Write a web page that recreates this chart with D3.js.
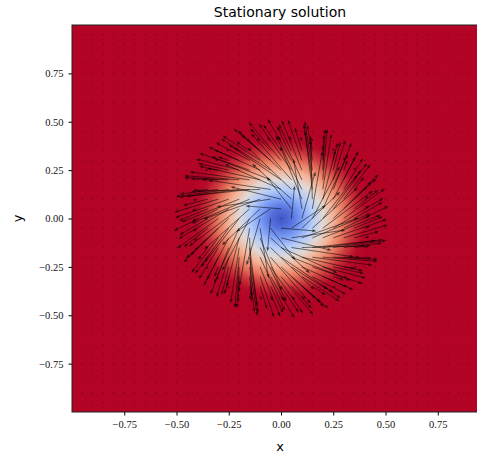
<!DOCTYPE html>
<html>
<head>
<meta charset="utf-8">
<script src="https://cdn.jsdelivr.net/npm/d3@7"></script>
<style>
  body { margin: 0; background: #fff; }
  .tick text { font-family: "Liberation Serif", "DejaVu Serif", serif; font-size: 10.5px; fill: #111; }
</style>
</head>
<body>
<svg id="chart" width="477" height="457"></svg>
<script>
// radial profile (r in plot units)
const profileR = [0, 0.05, 0.10, 0.15, 0.20, 0.25, 0.30, 0.35, 0.40, 0.45, 0.50]
// normalised colour value (0 = coolwarm blue, 1 = coolwarm red)
const fieldValue = [0.02, 0.08, 0.20, 0.36, 0.52, 0.68, 0.82, 0.93, 0.99, 1.0, 1.0]
// arrow length in plot units
const arrowLength = [0, 0.17, 0.25, 0.30, 0.31, 0.29, 0.25, 0.16, 0.03, 0.0, 0.0]
// arrow turn from the radial direction, degrees counter-clockwise
const arrowTurn = [88, 85, 75, 64, 54, 45, 38, 32, 30, 30, 30]

const xTicks = [-0.75, -0.5, -0.25, 0, 0.25, 0.5, 0.75]
const yTicks = [-0.75, -0.5, -0.25, 0, 0.25, 0.5, 0.75]
const gridStep = 0.05
const coolwarm = ['#3b4cc0', '#6282ea', '#8db0fe', '#b9d0f9', '#dddddd', '#f5c4ac', '#f49a7b', '#de604d', '#b40426']

let svg = d3.select('#chart')
let pLeft = 72, pTop = 25, pRight = 490, pBottom = 412
let x = d3.scaleLinear().domain([-1, 1]).range([pLeft, pRight])
let y = d3.scaleLinear().domain([-1, 1]).range([pBottom, pTop])
let colour = d3.piecewise(d3.interpolateRgb, coolwarm)

let valueAt = d3.scaleLinear().domain(profileR).range(fieldValue).clamp(true)
let lengthAt = d3.scaleLinear().domain(profileR).range(arrowLength).clamp(true)
let turnAt = d3.scaleLinear().domain(profileR).range(arrowTurn).clamp(true)

let defs = svg.append('defs')
// clip
defs.append('clipPath').attr('id', 'plot-clip')
    .append('rect').attr('x', pLeft).attr('y', pTop).attr('width', pRight - pLeft).attr('height', pBottom - pTop)

let plot = svg.append('g').attr('clip-path', 'url(#plot-clip)')

// heat map: flat red background + radial gradient disc
plot.append('rect').attr('x', pLeft).attr('y', pTop).attr('width', pRight - pLeft).attr('height', pBottom - pTop)
    .attr('fill', colour(1))
let grad = defs.append('radialGradient').attr('id', 'vortex')
profileR.forEach((r, i) => {
    grad.append('stop').attr('offset', r / 0.5).attr('stop-color', colour(valueAt(r)))
})
plot.append('ellipse')
    .attr('cx', x(0)).attr('cy', y(0))
    .attr('rx', x(0.5) - x(0)).attr('ry', y(0) - y(0.5))
    .attr('fill', 'url(#vortex)')

// quiver
let grid = []
let n = Math.round(2 / gridStep)
for (let i = 0; i <= n; i++) {
    for (let j = 0; j <= n; j++) {
        grid.push({gx: -1 + i * gridStep, gy: -1 + j * gridStep})
    }
}
let quiver = plot.append('g')
grid.forEach(p => {
    let r = Math.hypot(p.gx, p.gy)
    let len = lengthAt(r)
    let px = x(p.gx), py = y(p.gy)
    if (len < 0.01) {
        quiver.append('circle').attr('cx', px).attr('cy', py).attr('r', 0.6)
            .attr('fill', '#000').attr('fill-opacity', 0.4)
        return
    }
    let a = Math.atan2(p.gy, p.gx) + turnAt(r) * Math.PI / 180
    let ex = x(p.gx + len * Math.cos(a)), ey = y(p.gy + len * Math.sin(a))
    let dx = ex - px, dy = ey - py
    let L = Math.hypot(dx, dy)
    let ux = dx / L, uy = dy / L
    let hl = Math.min(4, L * 0.6), hw = 1.5
    let bx = ex - ux * hl, by = ey - uy * hl
    quiver.append('line').attr('x1', px).attr('y1', py).attr('x2', bx).attr('y2', by)
        .attr('stroke', '#000').attr('stroke-opacity', 0.68).attr('stroke-width', 0.8)
    quiver.append('path')
        .attr('d', 'M' + ex + ',' + ey + 'L' + (bx - uy * hw) + ',' + (by + ux * hw) + 'L' + (bx + uy * hw) + ',' + (by - ux * hw) + 'Z')
        .attr('fill', '#000').attr('fill-opacity', 0.68)
})

// axes
let fmt = d3.format('.2f')
svg.append('g').attr('transform', 'translate(0,' + pBottom + ')')
    .call(d3.axisBottom(x).tickValues(xTicks).tickFormat(fmt).tickSize(3.5).tickPadding(5))
    .call(g => g.select('.domain').remove())
svg.append('g').attr('transform', 'translate(' + pLeft + ',0)')
    .call(d3.axisLeft(y).tickValues(yTicks).tickFormat(fmt).tickSize(3.5).tickPadding(5))
    .call(g => g.select('.domain').remove())
svg.append('rect').attr('x', pLeft).attr('y', pTop).attr('width', pRight - pLeft).attr('height', pBottom - pTop)
    .attr('fill', 'none').attr('stroke', '#222').attr('stroke-width', 1)

// labels
svg.append('text').attr('x', (pLeft + pRight) / 2 - 1).attr('y', 17).attr('text-anchor', 'middle')
    .attr('font-family', 'DejaVu Sans').attr('font-size', 14).text('Stationary solution')
svg.append('text').attr('x', (pLeft + pRight) / 2 - 1).attr('y', 451).attr('text-anchor', 'middle')
    .attr('font-family', 'DejaVu Sans').attr('font-size', 13).text('x')
svg.append('text').attr('transform', 'translate(22,' + y(0) + ') rotate(-90)').attr('text-anchor', 'middle')
    .attr('font-family', 'DejaVu Sans').attr('font-size', 13).text('y')
</script>
</body>
</html>
